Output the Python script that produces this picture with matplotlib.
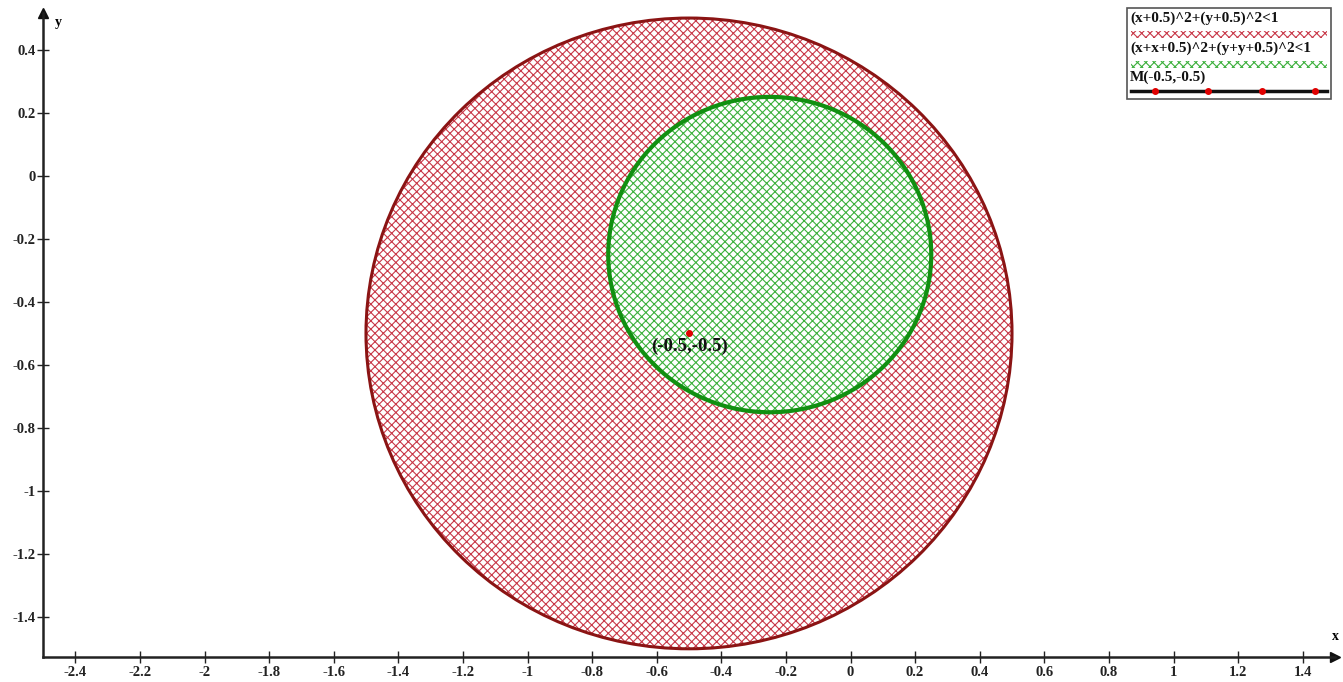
import matplotlib.pyplot as plt
from matplotlib.patches import Circle, Rectangle
from matplotlib.lines import Line2D

# ── Data ─────────────────────────────────────────────────────────────
big_center = (-0.5, -0.5)
big_radius = 1.0
small_center = (-0.25, -0.25)
small_radius = 0.5
point_xy = (-0.5, -0.5)
point_label = "(-0.5,-0.5)"

x_ticks = [-2.4, -2.2, -2.0, -1.8, -1.6, -1.4, -1.2, -1.0, -0.8, -0.6, -0.4,
           -0.2, 0.0, 0.2, 0.4, 0.6, 0.8, 1.0, 1.2, 1.4]
x_labels = ["-2.4", "-2.2", "-2", "-1.8", "-1.6", "-1.4", "-1.2", "-1", "-0.8",
            "-0.6", "-0.4", "-0.2", "0", "0.2", "0.4", "0.6", "0.8", "1",
            "1.2", "1.4"]
y_ticks = [0.4, 0.2, 0.0, -0.2, -0.4, -0.6, -0.8, -1.0, -1.2, -1.4]
y_labels = ["0.4", "0.2", "0", "-0.2", "-0.4", "-0.6", "-0.8", "-1", "-1.2",
            "-1.4"]

legend_labels = ["(x+0.5)^2+(y+0.5)^2<1",
                 "(x+x+0.5)^2+(y+y+0.5)^2<1",
                 "M(-0.5,-0.5)"]

RED_EDGE = "#8b1414"
RED_HATCH = "#c83848"
GREEN_EDGE = "#119011"
GREEN_HATCH = "#3cb03c"

plt.rcParams["font.family"] = ["Liberation Serif", "DejaVu Serif"]
plt.rcParams["font.weight"] = "bold"
plt.rcParams["hatch.linewidth"] = 0.8

W, H = 1343, 682
fig = plt.figure(figsize=(W / 100, H / 100), dpi=100)
ax = fig.add_axes([43 / W, 25 / H, (1335 - 43) / W, (657 - 13) / H])
ax.set_xlim(-2.5, 1.5)
ax.set_ylim(-1.526, 0.516)

# ── Regions ──────────────────────────────────────────────────────────
ax.add_patch(Circle(big_center, big_radius, facecolor="white",
                    edgecolor=RED_HATCH, hatch="xxxx", linewidth=0, zorder=1))
ax.add_patch(Circle(big_center, big_radius, fill=False, edgecolor=RED_EDGE,
                    linewidth=2.2, zorder=3))

ax.add_patch(Circle(small_center, small_radius, facecolor="white",
                    edgecolor=GREEN_HATCH, hatch="xxxx", linewidth=0,
                    zorder=2))
ax.add_patch(Circle(small_center, small_radius, fill=False,
                    edgecolor=GREEN_EDGE, linewidth=3, zorder=3))

ax.plot(*point_xy, "o", color="#e00000", markersize=4, zorder=4)
ax.text(point_xy[0], point_xy[1] - 0.012, point_label, ha="center", va="top",
        fontsize=13.5, fontweight="bold", color="#111111", zorder=4)

# ── Axes styling ─────────────────────────────────────────────────────
for side in ("top", "right"):
    ax.spines[side].set_visible(False)
for side in ("left", "bottom"):
    ax.spines[side].set_linewidth(1.8)
    ax.spines[side].set_color("#222222")

ax.set_xticks(x_ticks)
ax.set_xticklabels(x_labels, fontweight="bold", fontsize=10.5)
ax.set_yticks(y_ticks)
ax.set_yticklabels(y_labels, fontweight="bold", fontsize=10.5)
ax.tick_params(direction="inout", length=9, width=1, colors="#222222")
ax.tick_params(axis="x", pad=2)
ax.tick_params(axis="y", pad=1)

ax.plot(1, 0, ">", color="#111111", markersize=7, transform=ax.transAxes,
        clip_on=False)
ax.plot(0, 1, "^", color="#111111", markersize=7, transform=ax.transAxes,
        clip_on=False)
ax.text(1.0, 0.022, "x", transform=ax.transAxes, ha="center", va="bottom",
        fontsize=10, fontweight="bold")
ax.text(0.012, 0.985, "y", transform=ax.transAxes, ha="center", va="center",
        fontsize=10, fontweight="bold")


# ── Legend (label above sample) ──────────────────────────────────────
def fx(px):
    return px / W


def fy(py):
    return 1 - py / H


fig.patches.append(Rectangle((fx(1127), fy(99)), fx(1331) - fx(1127),
                             fy(8) - fy(99), transform=fig.transFigure,
                             facecolor="white", edgecolor="#555555",
                             linewidth=1.2, zorder=5))
text_rows = [18, 48, 77]
for lab, ty in zip(legend_labels, text_rows):
    fig.text(fx(1130), fy(ty), lab, ha="left", va="center", fontsize=11,
             fontweight="bold", color="#111111", zorder=6)

for ty, col in ((34, RED_HATCH), (64, GREEN_HATCH)):
    fig.patches.append(Rectangle((fx(1131), fy(ty + 4)), fx(1327) - fx(1131),
                                 fy(ty - 3) - fy(ty + 4),
                                 transform=fig.transFigure, facecolor="white",
                                 edgecolor=col, hatch="xxxx", linewidth=0,
                                 zorder=6))

fig.lines.append(Line2D([fx(1131), fx(1327)], [fy(91), fy(91)],
                        transform=fig.transFigure, color="#111111",
                        linewidth=2.5, zorder=6))
fig.lines.append(Line2D([fx(1155), fx(1208), fx(1262), fx(1315)],
                        [fy(91)] * 4, transform=fig.transFigure,
                        linestyle="none", marker="o", markersize=4,
                        color="#e00000", zorder=7))

fig.savefig("out.png", dpi=100)
